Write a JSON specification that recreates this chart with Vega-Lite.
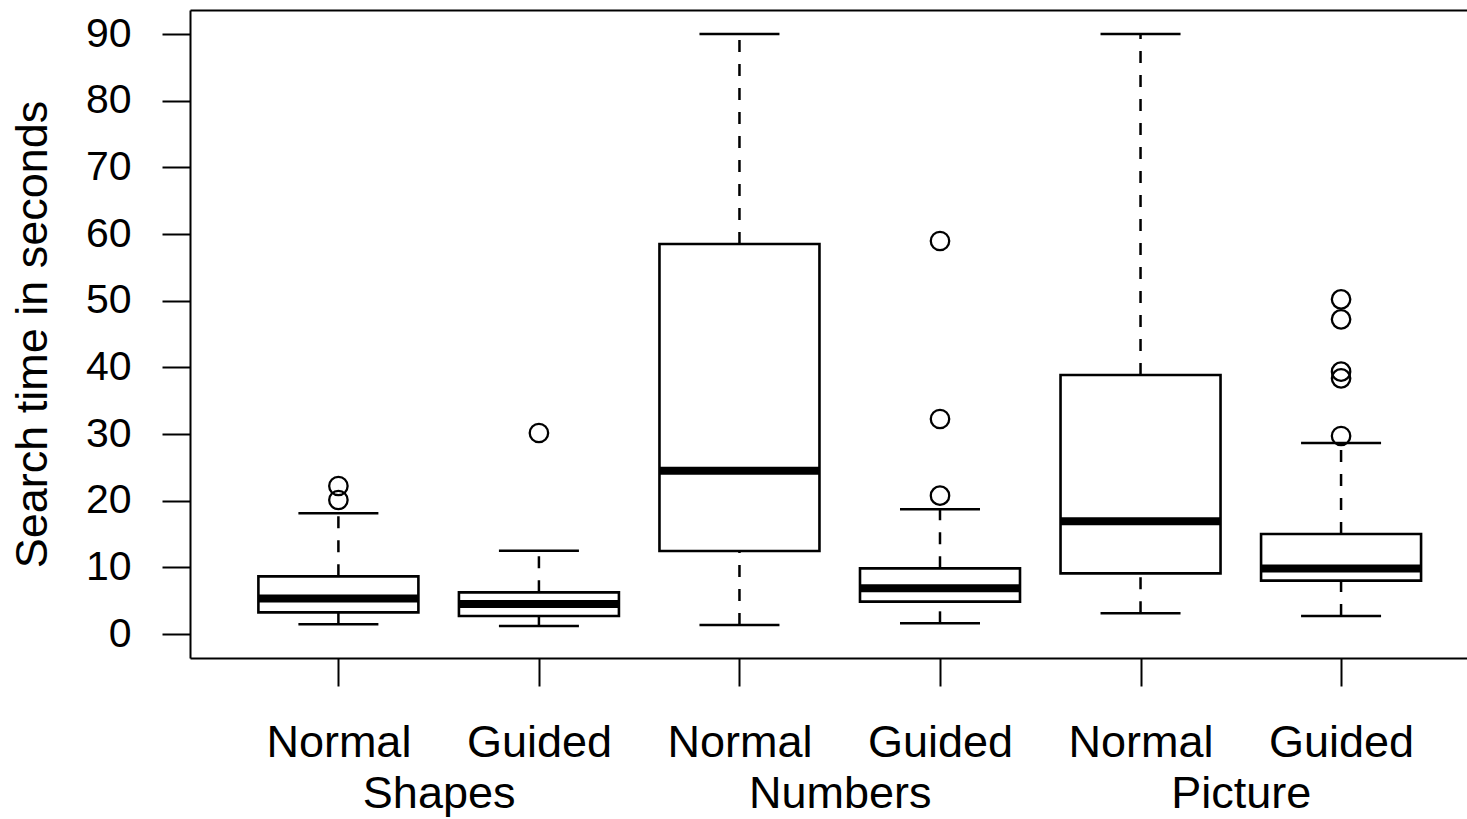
{
  "$schema": "https://vega.github.io/schema/vega-lite/v6.json",
  "width": 1277,
  "height": 648,
  "autosize": "none",
  "padding": {"left": 190, "top": 10, "right": 0, "bottom": 161},
  "background": "white",
  "config": {
    "view": {"stroke": null},
    "font": "Liberation Sans",
    "axis": {"domainColor": "black", "tickColor": "black", "labelColor": "black", "titleColor": "black", "grid": false, "labelLimit": 0}
  },
  "datasets": {
    "boxes": [
      {"pos": 1, "group": "Shapes", "cond": "Normal", "lower": 1.45, "q1": 3.25, "median": 5.33, "q3": 8.65, "upper": 18.1},
      {"pos": 2, "group": "Shapes", "cond": "Guided", "lower": 1.2, "q1": 2.7, "median": 4.5, "q3": 6.25, "upper": 12.5},
      {"pos": 3, "group": "Numbers", "cond": "Normal", "lower": 1.35, "q1": 12.45, "median": 24.5, "q3": 58.5, "upper": 90},
      {"pos": 4, "group": "Numbers", "cond": "Guided", "lower": 1.6, "q1": 4.85, "median": 6.85, "q3": 9.85, "upper": 18.7},
      {"pos": 5, "group": "Picture", "cond": "Normal", "lower": 3.1, "q1": 9.1, "median": 16.9, "q3": 38.85, "upper": 90},
      {"pos": 6, "group": "Picture", "cond": "Guided", "lower": 2.7, "q1": 8.0, "median": 9.83, "q3": 15.0, "upper": 28.65}
    ],
    "outliers": [
      {"pos": 1, "value": 22.2},
      {"pos": 1, "value": 20.1},
      {"pos": 2, "value": 30.15},
      {"pos": 4, "value": 58.95},
      {"pos": 4, "value": 32.25},
      {"pos": 4, "value": 20.75},
      {"pos": 6, "value": 50.2},
      {"pos": 6, "value": 47.2},
      {"pos": 6, "value": 39.35},
      {"pos": 6, "value": 38.35},
      {"pos": 6, "value": 29.7}
    ]
  },
  "resolve": {"axis": {"x": "independent", "y": "independent"}},
  "layer": [
    {
      "data": {"name": "boxes"},
      "mark": {"type": "rule", "color": "black", "opacity": 1, "strokeWidth": 2.5, "strokeDash": [12, 12]},
      "encoding": {
        "x": {"field": "pos", "type": "quantitative", "scale": {"domain": [0.26, 6.628], "nice": false, "zero": false, "padding": 0},
          "axis": {"orient": "bottom", "values": [1.5, 3.5, 5.5], "labelExpr": "datum.value == 1.5 ? 'Shapes' : datum.value == 3.5 ? 'Numbers' : 'Picture'", "ticks": false, "tickSize": 0, "domain": false, "labelFontSize": 45, "labelPadding": 113, "labelLimit": 0, "title": null, "labelFlush": false, "labelOverlap": false}},
        "y": {"field": "lower", "type": "quantitative", "scale": {"domain": [-3.6, 93.6], "nice": false, "zero": false, "padding": 0},
          "axis": {"orient": "left", "values": [0, 10, 20, 30, 40, 50, 60, 70, 80, 90], "tickSize": 28, "tickWidth": 2, "domainWidth": 2, "labelFontSize": 41, "labelPadding": 31, "title": "Search time in seconds", "titleFontSize": 45, "titleFontWeight": "normal", "titlePadding": 30, "titleLimit": 0, "labelFlush": false, "labelOverlap": false}},
        "y2": {"field": "q1"}
      }
    },
    {
      "data": {"name": "boxes"},
      "mark": {"type": "rule", "color": "black", "opacity": 1, "strokeWidth": 2.5, "strokeDash": [12, 12]},
      "encoding": {
        "x": {"field": "pos", "type": "quantitative", "scale": {"domain": [0.26, 6.628], "nice": false, "zero": false, "padding": 0},
          "axis": {"orient": "top", "labels": false, "ticks": false, "domain": true, "domainWidth": 2, "title": null}},
        "y": {"field": "q3", "type": "quantitative", "scale": {"domain": [-3.6, 93.6], "nice": false, "zero": false, "padding": 0}, "axis": null},
        "y2": {"field": "upper"}
      }
    },
    {
      "data": {"name": "boxes"},
      "mark": {"type": "tick", "orient": "horizontal", "color": "black", "opacity": 1, "size": 80, "thickness": 2.5},
      "encoding": {
        "x": {"field": "pos", "type": "quantitative", "scale": {"domain": [0.26, 6.628], "nice": false, "zero": false, "padding": 0}, "axis": null},
        "y": {"field": "lower", "type": "quantitative", "scale": {"domain": [-3.6, 93.6], "nice": false, "zero": false, "padding": 0}, "axis": null}
      }
    },
    {
      "data": {"name": "boxes"},
      "mark": {"type": "tick", "orient": "horizontal", "color": "black", "opacity": 1, "size": 80, "thickness": 2.5},
      "encoding": {
        "x": {"field": "pos", "type": "quantitative", "scale": {"domain": [0.26, 6.628], "nice": false, "zero": false, "padding": 0}, "axis": null},
        "y": {"field": "upper", "type": "quantitative", "scale": {"domain": [-3.6, 93.6], "nice": false, "zero": false, "padding": 0}, "axis": null}
      }
    },
    {
      "data": {"name": "boxes"},
      "mark": {"type": "bar", "width": 160, "fill": "white", "stroke": "black", "strokeWidth": 2.6, "opacity": 1},
      "encoding": {
        "x": {"field": "pos", "type": "quantitative", "scale": {"domain": [0.26, 6.628], "nice": false, "zero": false, "padding": 0},
          "axis": {"orient": "bottom", "values": [1, 2, 3, 4, 5, 6], "labelExpr": "datum.value % 2 == 1 ? 'Normal' : 'Guided'", "tickSize": 28, "tickWidth": 2, "domainWidth": 2, "labelFontSize": 45, "labelPadding": 34, "labelLimit": 0, "title": null, "labelFlush": false, "labelOverlap": false}},
        "y": {"field": "q1", "type": "quantitative", "scale": {"domain": [-3.6, 93.6], "nice": false, "zero": false, "padding": 0}, "axis": null},
        "y2": {"field": "q3"}
      }
    },
    {
      "data": {"name": "boxes"},
      "mark": {"type": "tick", "orient": "horizontal", "color": "black", "opacity": 1, "size": 160, "thickness": 8},
      "encoding": {
        "x": {"field": "pos", "type": "quantitative", "scale": {"domain": [0.26, 6.628], "nice": false, "zero": false, "padding": 0}, "axis": null},
        "y": {"field": "median", "type": "quantitative", "scale": {"domain": [-3.6, 93.6], "nice": false, "zero": false, "padding": 0}, "axis": null}
      }
    },
    {
      "data": {"name": "outliers"},
      "mark": {"type": "point", "shape": "circle", "filled": false, "color": "black", "opacity": 1, "size": 340, "strokeWidth": 2.3},
      "encoding": {
        "x": {"field": "pos", "type": "quantitative", "scale": {"domain": [0.26, 6.628], "nice": false, "zero": false, "padding": 0}, "axis": null},
        "y": {"field": "value", "type": "quantitative", "scale": {"domain": [-3.6, 93.6], "nice": false, "zero": false, "padding": 0}, "axis": null}
      }
    }
  ]
}
